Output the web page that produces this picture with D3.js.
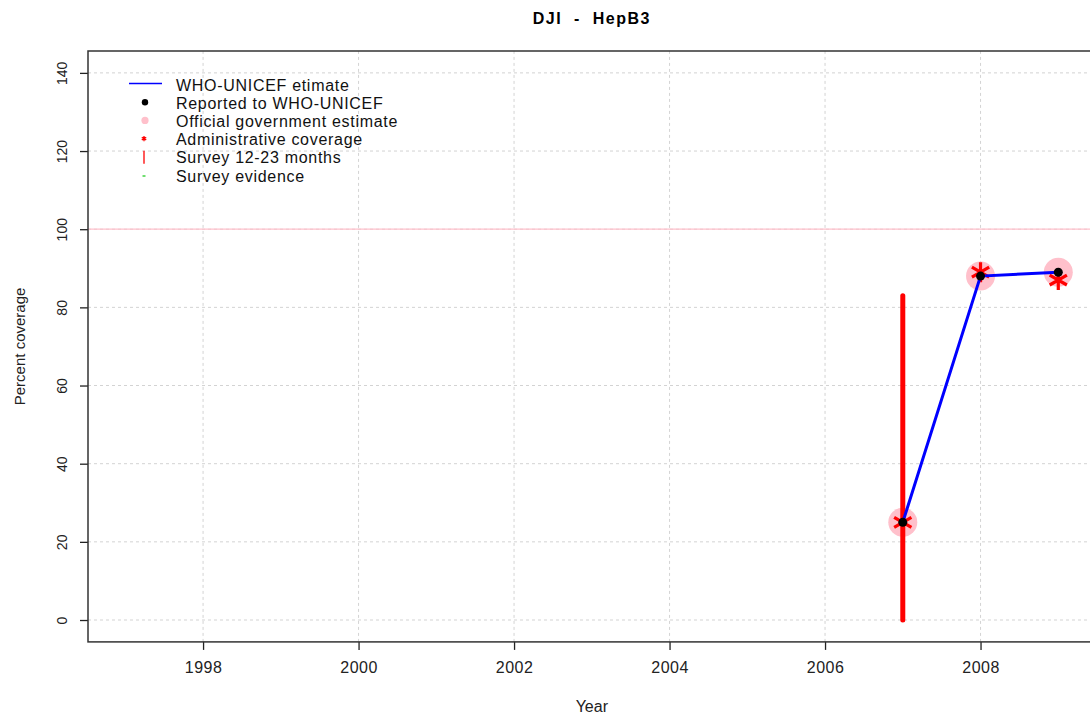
<!DOCTYPE html>
<html>
<head>
<meta charset="utf-8">
<script src="https://cdn.jsdelivr.net/npm/d3@7"></script>
<style>
    body { margin: 0; background: #fff; overflow: hidden; }
    svg { display: block; font-family: "Liberation Sans", Arial, sans-serif; }
</style>
</head>
<body>
<div id="chart"></div>
<script>
// data
const years = [2007, 2008, 2009];
const whoEstimate = [25, 88, 89];
const reported = [25, 88, 89];
const official = [25, 88, 89];
const admin = [25, 89, 87];
const surveyYears = [2007];
const surveyValues = [83];
const xTicks = [1998, 2000, 2002, 2004, 2006, 2008];
const yTicks = [0, 20, 40, 60, 80, 100, 120, 140];
const legendLabels = [
    'WHO-UNICEF etimate',
    'Reported to WHO-UNICEF',
    'Official government estimate',
    'Administrative coverage',
    'Survey 12-23 months',
    'Survey evidence'
];

const width = 1090, height = 718;
const margin = { l: 88, t: 51, r: -5.6, b: 76.1 };

const svg = d3.select('#chart')
    .append('svg')
    .attr('width', width)
    .attr('height', height);

// R style axes: data range extended by 4% each side
const scaleX = d3.scaleLinear()
    .domain([1996.52, 2009.48])
    .range([margin.l, width - margin.r]);
const scaleY = d3.scaleLinear()
    .domain([-5.6, 145.6])
    .range([height - margin.b, margin.t]);

const x0 = scaleX.range()[0], x1 = scaleX.range()[1];
const y0 = scaleY.range()[0], y1 = scaleY.range()[1];

// grid
const grid = svg.append('g').attr('class', 'grid')
    .attr('stroke', '#d3d3d3')
    .attr('stroke-dasharray', '3,3');
grid.selectAll('.gx')
    .data(xTicks)
    .join('line')
    .attr('class', 'gx')
    .attr('x1', d => scaleX(d)).attr('x2', d => scaleX(d))
    .attr('y1', y0).attr('y2', y1);
grid.selectAll('.gy')
    .data(yTicks)
    .join('line')
    .attr('class', 'gy')
    .attr('x1', x0).attr('x2', x1)
    .attr('y1', d => scaleY(d)).attr('y2', d => scaleY(d));

// 100% reference line
svg.append('line')
    .attr('x1', x0).attr('x2', x1)
    .attr('y1', scaleY(100)).attr('y2', scaleY(100))
    .attr('stroke', 'pink')
    .attr('stroke-width', 1.2);

// axes
const axisX = d3.axisBottom(scaleX)
    .tickValues(xTicks)
    .tickSize(8)
    .tickPadding(12)
    .tickFormat(d3.format('d'));
const axisY = d3.axisLeft(scaleY)
    .tickValues(yTicks)
    .tickSize(8)
    .tickPadding(0);

const gx = svg.append('g')
    .attr('class', 'axis axis-x')
    .attr('transform', `translate(0, ${y0})`)
    .call(axisX);
gx.select('.domain').remove();
gx.selectAll('.tick line').attr('stroke', '#222').attr('stroke-width', 1.3);
gx.selectAll('.tick text')
    .attr('fill', '#222')
    .style('font-size', '16px')
    .style('letter-spacing', '0.5px');

const gy = svg.append('g')
    .attr('class', 'axis axis-y')
    .attr('transform', `translate(${x0}, 0)`)
    .call(axisY);
gy.select('.domain').remove();
gy.selectAll('.tick line').attr('stroke', '#222').attr('stroke-width', 1.3);
gy.selectAll('.tick text')
    .attr('fill', '#222')
    .attr('x', 0).attr('dy', 0)
    .attr('text-anchor', 'middle')
    .attr('transform', 'translate(-21, 0) rotate(-90)')
    .style('font-size', '14px');

// box
svg.append('rect')
    .attr('x', x0).attr('y', y1)
    .attr('width', x1 - x0).attr('height', y0 - y1)
    .attr('fill', 'none')
    .attr('stroke', '#333')
    .attr('stroke-width', 1.5);

// titles
svg.append('text')
    .attr('x', (x0 + x1) / 2).attr('y', 24)
    .attr('text-anchor', 'middle')
    .style('font-size', '16px')
    .style('font-weight', 'bold')
    .style('letter-spacing', '1.5px')
    .style('white-space', 'pre')
    .text('DJI  -  HepB3');
svg.append('text')
    .attr('x', (x0 + x1) / 2).attr('y', 712)
    .attr('text-anchor', 'middle')
    .attr('fill', '#222')
    .style('font-size', '16px')
    .text('Year');
svg.append('text')
    .attr('transform', `translate(25, ${(y0 + y1) / 2}) rotate(-90)`)
    .attr('text-anchor', 'middle')
    .attr('fill', '#222')
    .style('font-size', '15px')
    .text('Percent coverage');

const pts = years.map((y, i) => ({
    year: y, who: whoEstimate[i], rep: reported[i], off: official[i], adm: admin[i]
}));

const marks = svg.append('g').attr('class', 'marks');

// official government estimate
marks.selectAll('.official')
    .data(pts)
    .join('circle')
    .attr('class', 'official')
    .attr('cx', d => scaleX(d.year))
    .attr('cy', d => scaleY(d.off))
    .attr('r', 14.5)
    .attr('fill', 'pink');

// administrative coverage
const asterisk = d3.symbol(d3.symbolAsterisk, 280);
marks.selectAll('.admin')
    .data(pts)
    .join('path')
    .attr('class', 'admin')
    .attr('transform', d => `translate(${scaleX(d.year)}, ${scaleY(d.adm)})`)
    .attr('d', asterisk)
    .attr('fill', 'none')
    .attr('stroke', 'red')
    .attr('stroke-width', 3.2);

// survey 12-23 months
marks.selectAll('.survey')
    .data(surveyYears.map((y, i) => ({ year: y, value: surveyValues[i] })))
    .join('line')
    .attr('class', 'survey')
    .attr('x1', d => scaleX(d.year)).attr('x2', d => scaleX(d.year))
    .attr('y1', scaleY(0)).attr('y2', d => scaleY(d.value))
    .attr('stroke', 'red')
    .attr('stroke-width', 5)
    .attr('stroke-linecap', 'round');

// WHO-UNICEF estimate
const line = d3.line()
    .x(d => scaleX(d.year))
    .y(d => scaleY(d.who));
marks.append('path')
    .datum(pts)
    .attr('d', line)
    .attr('fill', 'none')
    .attr('stroke', 'blue')
    .attr('stroke-width', 3);

// reported
marks.selectAll('.reported')
    .data(pts)
    .join('circle')
    .attr('class', 'reported')
    .attr('cx', d => scaleX(d.year))
    .attr('cy', d => scaleY(d.rep))
    .attr('r', 4.5)
    .attr('fill', 'black');

// legend
const legend = svg.append('g').attr('class', 'legend')
    .attr('transform', 'translate(145, 85)');
const rowH = 18.2;
const rows = legend.selectAll('.row')
    .data(legendLabels)
    .join('g')
    .attr('class', 'row')
    .attr('transform', (d, i) => `translate(0, ${i * rowH})`);
rows.append('text')
    .attr('x', 31).attr('y', 5.5)
    .attr('fill', '#111')
    .style('font-size', '16px')
    .style('letter-spacing', '0.7px')
    .text(d => d);

legend.append('line')
    .attr('x1', -16).attr('x2', 17).attr('y1', -1.5).attr('y2', -1.5)
    .attr('stroke', 'blue').attr('stroke-width', 1.3);
legend.append('circle')
    .attr('cx', 0).attr('cy', rowH * 1 - 1).attr('r', 3.2).attr('fill', 'black');
legend.append('circle')
    .attr('cx', 0).attr('cy', rowH * 2 - 1).attr('r', 3.6).attr('fill', 'pink');
legend.append('path')
    .attr('transform', `translate(-1, ${rowH * 3 - 1})`)
    .attr('d', d3.symbol(d3.symbolAsterisk, 18))
    .attr('fill', 'none').attr('stroke', 'red').attr('stroke-width', 1.3);
legend.append('line')
    .attr('x1', -1).attr('x2', -1)
    .attr('y1', rowH * 4 - 7).attr('y2', rowH * 4 + 6)
    .attr('stroke', 'red').attr('stroke-width', 1.3);
legend.append('line')
    .attr('x1', -2.5).attr('x2', 0.5)
    .attr('y1', rowH * 5).attr('y2', rowH * 5)
    .attr('stroke', '#22cc22').attr('stroke-width', 1.3);
</script>
</body>
</html>
